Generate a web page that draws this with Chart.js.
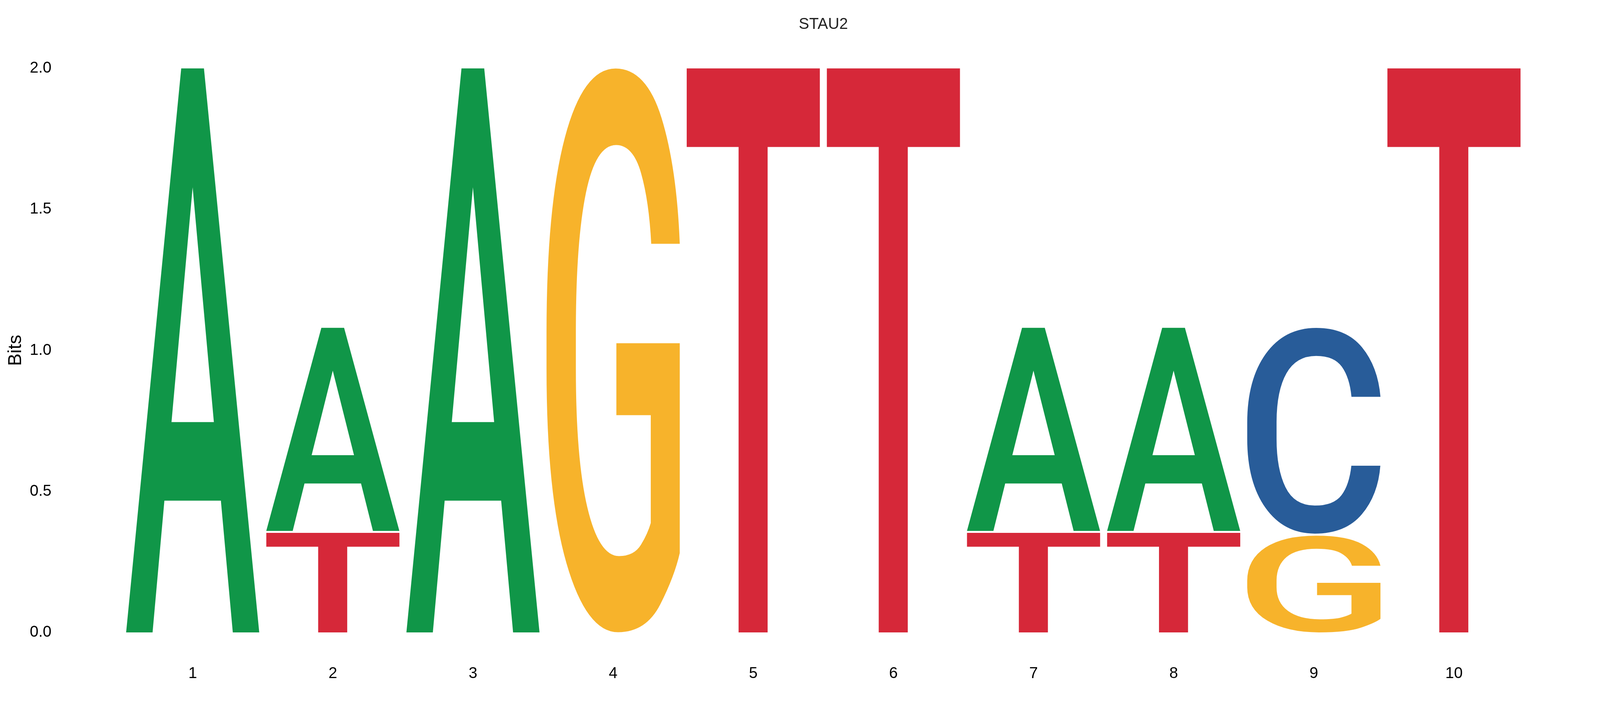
<!DOCTYPE html>
<html>
<head>
<meta charset="utf-8">
<script src="https://cdn.jsdelivr.net/npm/chart.js@4.4.1/dist/chart.umd.min.js"></script>
<style>
  html, body { margin: 0; padding: 0; background: #fff; overflow: hidden; }
  #wrap { width: 100vw; height: 1829px; }
</style>
</head>
<body>
<div id="wrap"><canvas id="logo"></canvas></div>
<script>
// Posições do motivo
const positions = ['1', '2', '3', '4', '5', '6', '7', '8', '9', '10'];

// Altura (bits) de cada letra por posição, de baixo para cima: T, G, C, A
const bitsT = [0, 0.36, 0, 0, 2.0, 2.0, 0.36, 0.36, 0, 2.0];
const bitsG = [0, 0, 0, 2.0, 0, 0, 0, 0, 0.35, 0];
const bitsC = [0, 0, 0, 0, 0, 0, 0, 0, 0.73, 0];
const bitsA = [2.0, 0.72, 2.0, 0, 0, 0, 0.72, 0.72, 0, 0];

const yTicks = [0, 0.5, 1.0, 1.5, 2.0];
const titleText = 'STAU2';

const letterColors = {
    A: '#109648',
    C: '#285C99',
    G: '#F7B32B',
    T: '#D62839'
};

// Layout pensado para 4350px de largura, escalado na horizontal
const W = window.innerWidth || 4350;
const fx = W / 4350;
const area = { left: 333.5 * fx, right: 4143.5 * fx, top: 175, bottom: 1620 };
const textFont = '"Liberation Sans", Arial, sans-serif';
const glyphFont = '500 1000px "Roboto Medium", Roboto, sans-serif';

// Limites reais da tinta de cada letra (medidos num canvas à parte)
const glyphBox = {};
function inkBox(letter) {
    if (glyphBox[letter]) return glyphBox[letter];
    const c = document.createElement('canvas');
    c.width = 1400; c.height = 1400;
    const g = c.getContext('2d');
    g.font = glyphFont;
    g.textBaseline = 'alphabetic';
    g.fillStyle = '#000';
    g.fillText(letter, 200, 1200);
    const px = g.getImageData(0, 0, c.width, c.height).data;
    let x1 = c.width, x2 = -1, y1 = c.height, y2 = -1;
    for (let y = 0; y < c.height; y++) {
        for (let x = 0; x < c.width; x++) {
            if (px[(y * c.width + x) * 4 + 3] > 127) {
                if (x < x1) x1 = x;
                if (x > x2) x2 = x;
                if (y < y1) y1 = y;
                if (y > y2) y2 = y;
            }
        }
    }
    glyphBox[letter] = { ox: 200 - x1, oy: 1200 - y1, w: x2 - x1 + 1, h: y2 - y1 + 1 };
    return glyphBox[letter];
}

// Fixa a área do gráfico depois do layout automático
const areaPlugin = {
    id: 'fixedArea',
    afterLayout(chart) {
        const xs = chart.scales.x, ys = chart.scales.y;
        ys.top = area.top; ys.bottom = area.bottom; ys.height = area.bottom - area.top;
        ys.left = 0; ys.right = area.left; ys.width = area.left;
        xs.left = area.left; xs.right = area.right; xs.width = area.right - area.left;
        xs.top = area.bottom; xs.bottom = chart.height; xs.height = chart.height - area.bottom;
        ys.configure();
        xs.configure();
        chart.chartArea = {
            left: area.left, top: area.top, right: area.right, bottom: area.bottom,
            width: area.right - area.left, height: area.bottom - area.top
        };
    }
};

// Desenha cada letra esticada dentro do retângulo da barra
const letterPlugin = {
    id: 'letters',
    afterDatasetsDraw(chart) {
        const ctx = chart.ctx;
        const sets = chart.data.datasets;
        const n = chart.data.labels.length;
        for (let i = 0; i < n; i++) {
            let topIdx = -1;
            sets.forEach((ds, d) => { if (ds.data[i] > 0) topIdx = d; });
            sets.forEach((ds, d) => {
                if (!(ds.data[i] > 0)) return;
                const bar = chart.getDatasetMeta(d).data[i];
                const p = bar.getProps(['x', 'y', 'base', 'width'], true);
                const x0 = p.x - p.width / 2;
                let top = Math.min(p.y, p.base);
                const bottom = Math.max(p.y, p.base);
                if (d !== topIdx) top += 5;
                const w = p.width, h = bottom - top;
                if (h <= 0) return;
                const b = inkBox(ds.label);
                ctx.save();
                ctx.font = glyphFont;
                ctx.textAlign = 'left';
                ctx.textBaseline = 'alphabetic';
                ctx.translate(x0, top);
                ctx.scale(w / b.w, h / b.h);
                ctx.fillStyle = letterColors[ds.label];
                ctx.fillText(ds.label, b.ox, b.oy);
                ctx.restore();
            });
        }
    },
    // título centrado sobre a área do gráfico
    afterDraw(chart) {
        const ctx = chart.ctx;
        const a = chart.chartArea;
        ctx.save();
        ctx.font = '40px ' + textFont;
        ctx.fillStyle = '#222222';
        ctx.textAlign = 'center';
        ctx.textBaseline = 'middle';
        ctx.fillText(titleText, (a.left + a.right) / 2, 63);
        ctx.restore();
    }
};

function makeSet(letter, values) {
    return {
        label: letter,
        data: values,
        backgroundColor: 'rgba(0,0,0,0)',
        borderWidth: 0,
        categoryPercentage: 0.95,
        barPercentage: 1.0
    };
}

const ctx = document.getElementById('logo').getContext('2d');
new Chart(ctx, {
    type: 'bar',
    data: {
        labels: positions,
        datasets: [
            makeSet('T', bitsT),
            makeSet('G', bitsG),
            makeSet('C', bitsC),
            makeSet('A', bitsA)
        ]
    },
    plugins: [areaPlugin, letterPlugin],
    options: {
        responsive: true,
        maintainAspectRatio: false,
        devicePixelRatio: 1,
        animation: false,
        layout: {
            padding: { left: 0, right: 206 * fx, top: 175, bottom: 0 }
        },
        plugins: {
            legend: { display: false },
            tooltip: { enabled: false },
            title: { display: false }
        },
        scales: {
            x: {
                stacked: true,
                grid: { display: false, drawTicks: false },
                border: { display: false },
                ticks: {
                    color: '#000',
                    padding: 82,
                    font: { family: textFont, size: 40, lineHeight: 1.2 }
                }
            },
            y: {
                stacked: true,
                min: 0,
                max: 2,
                grid: { display: false, drawTicks: false },
                border: { display: false },
                afterBuildTicks(scale) {
                    scale.ticks = yTicks.map(v => ({ value: v }));
                },
                ticks: {
                    color: '#000',
                    padding: area.left - 140 * fx,
                    font: { family: textFont, size: 40, lineHeight: 1.2 },
                    callback: v => Number(v).toFixed(1)
                },
                title: {
                    display: true,
                    text: 'Bits',
                    color: '#000',
                    font: { family: textFont, size: 48, lineHeight: 1.2 },
                    padding: { top: 43 * fx - 28.8, bottom: 0 }
                }
            }
        }
    }
});
</script>
</body>
</html>
